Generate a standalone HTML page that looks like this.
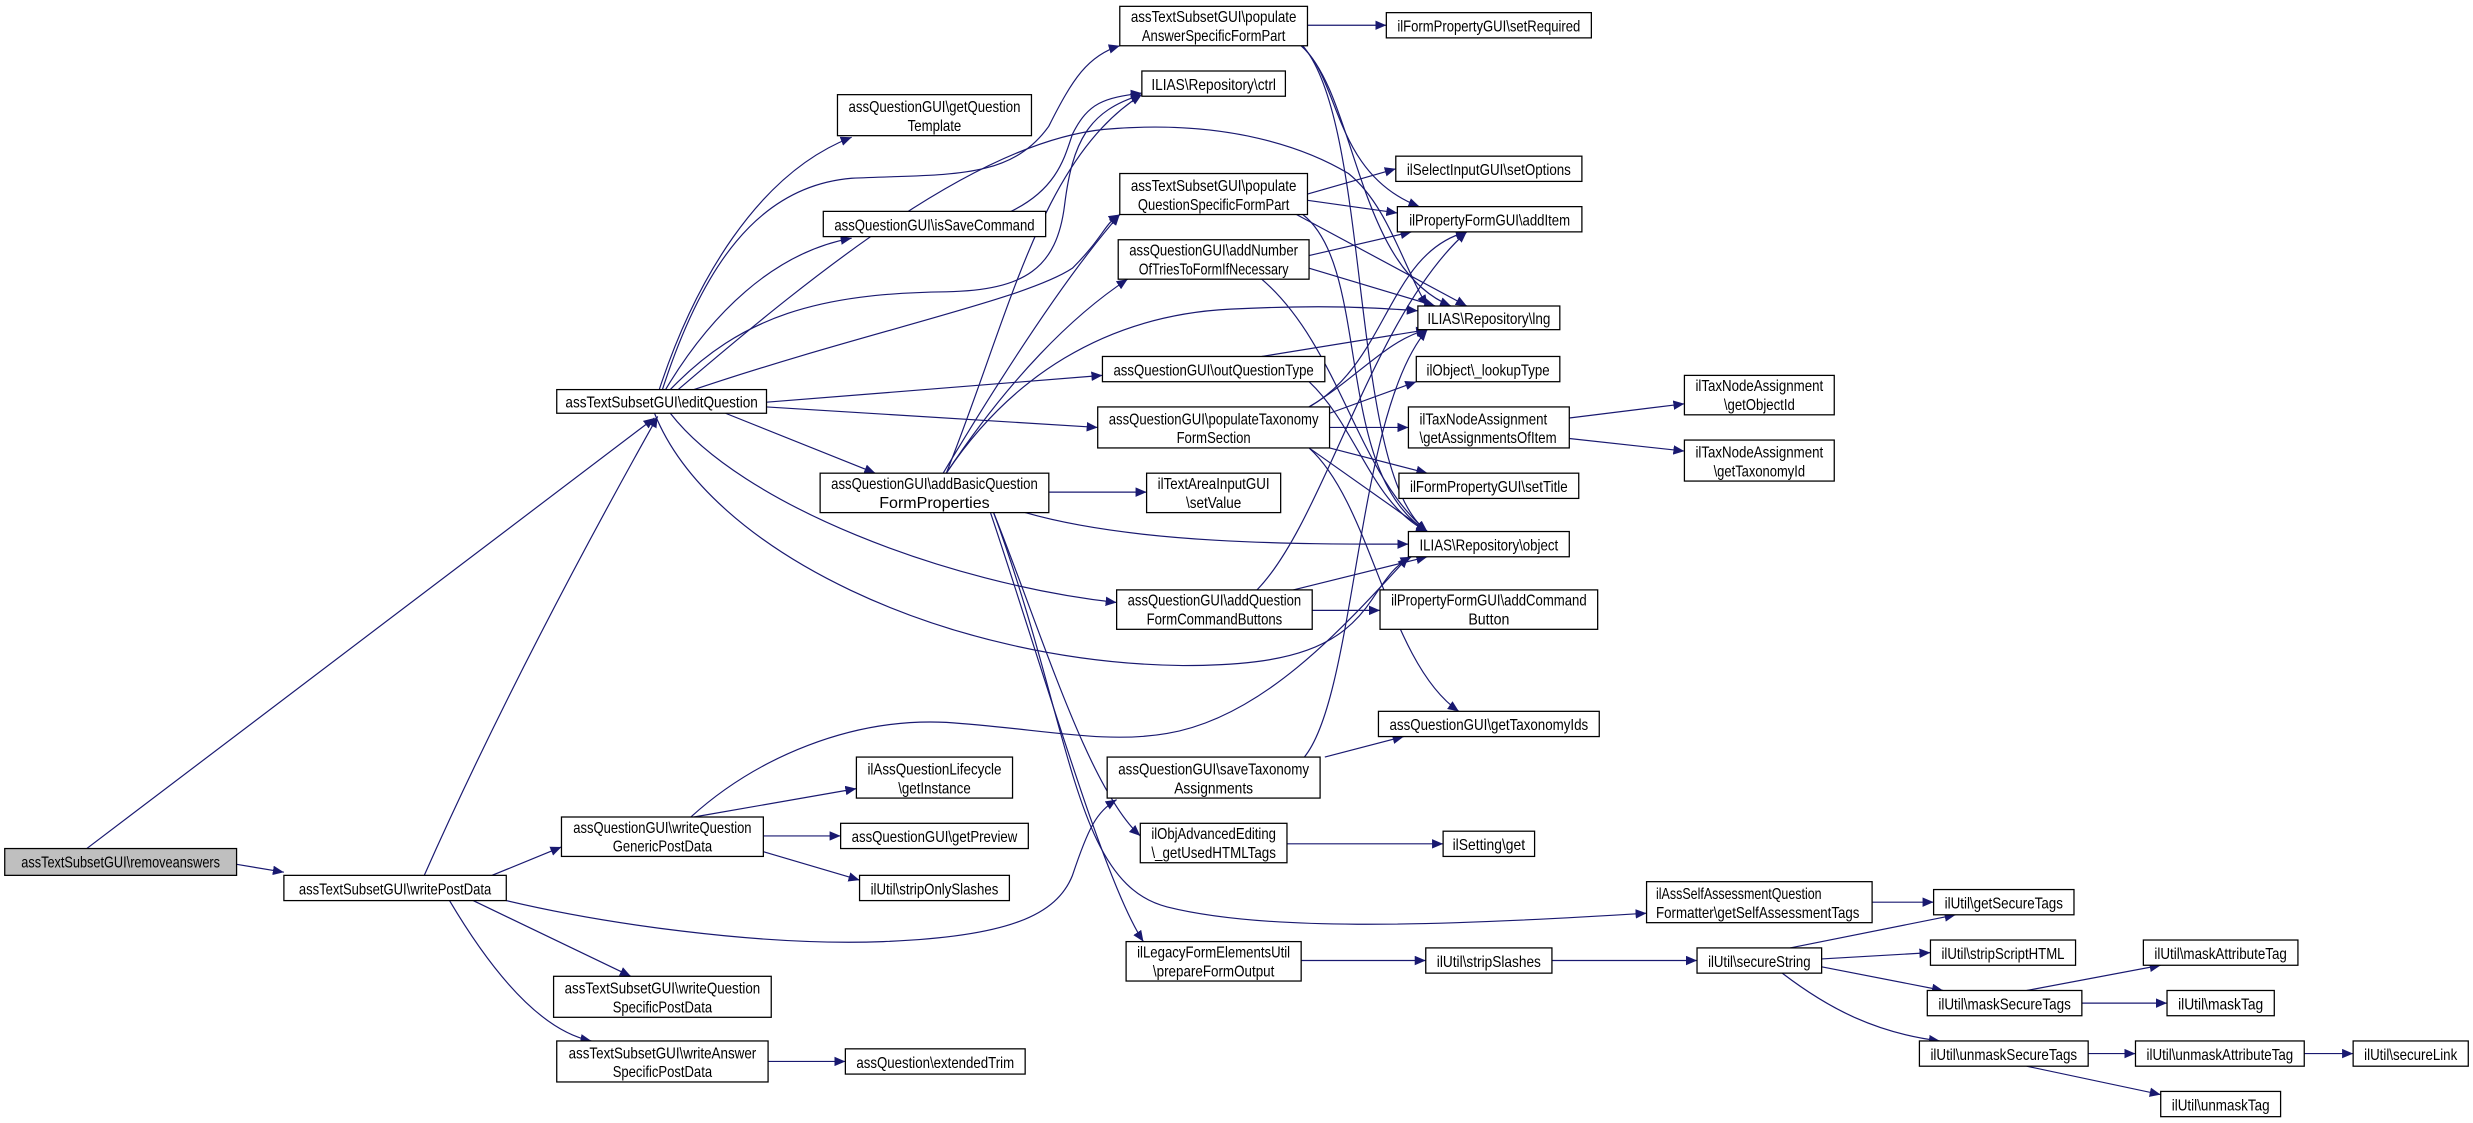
<!DOCTYPE html>
<html><head><meta charset="utf-8"><style>
html,body{margin:0;padding:0;background:#fff;}
svg{display:block;}
text{font-family:"Liberation Sans",sans-serif;font-size:10px;fill:#000;}
.e{fill:none;stroke:#191970;stroke-width:0.75;}
.n{fill:#fff;stroke:#000;stroke-width:0.8;}
</style></head><body>
<svg width="2473" height="1123" viewBox="0 0 1568 712" xmlns="http://www.w3.org/2000/svg">
<defs><marker id="a" markerWidth="8" markerHeight="6" refX="7" refY="3" orient="auto" markerUnits="userSpaceOnUse"><path d="M0,0 L7,3 L0,6 z" fill="#191970"/></marker></defs>
<g marker-end="url(#a)">
<path class="e" d="M55,538 L415,265"/>
<path class="e" d="M150,548 L180,553"/>
<path class="e" d="M269,555 C320,440 380,330 417,264"/>
<path class="e" d="M312,555 L356,537"/>
<path class="e" d="M321,571 C380,585 480,600 560,597 C640,594 670,580 680,555 C690,525 695,515 708,507"/>
<path class="e" d="M438,518 C480,480 540,455 600,458 C660,462 700,472 740,465 C800,455 850,400 893,353"/>
<path class="e" d="M440,518 L543,500"/>
<path class="e" d="M484,530 L533,530"/>
<path class="e" d="M484,540 L545,558"/>
<path class="e" d="M300,571 L400,619"/>
<path class="e" d="M285,571 C320,630 350,655 375,660"/>
<path class="e" d="M487,673 L536,673"/>
<path class="e" d="M418,247 C440,180 480,110 540,87"/>
<path class="e" d="M420,247 C445,170 480,118 540,113 C600,110 640,115 665,80 C680,50 690,35 710,29"/>
<path class="e" d="M422,247 C450,200 490,160 540,151"/>
<path class="e" d="M425,247 C470,200 520,186 600,185 C650,184 670,170 675,130 C680,90 690,70 724,60"/>
<path class="e" d="M641,134 C670,120 675,100 680,85 C690,65 700,62 724,59"/>
<path class="e" d="M430,247 C520,170 620,90 700,82 C780,75 830,95 855,110 C880,130 890,170 905,194"/>
<path class="e" d="M440,247 C550,210 650,190 680,170 C700,150 700,142 710,136"/>
<path class="e" d="M486,255 L699,238"/>
<path class="e" d="M486,258 L696,271"/>
<path class="e" d="M460,262 L555,300"/>
<path class="e" d="M425,262 C470,320 600,370 708,382"/>
<path class="e" d="M415,262 C450,350 600,420 750,422 C820,422 850,410 870,380 C880,365 885,358 895,353"/>
<path class="e" d="M829,16 L879,16"/>
<path class="e" d="M825,29 C850,50 845,110 900,131"/>
<path class="e" d="M825,29 C860,60 860,170 920,194"/>
<path class="e" d="M826,29 C870,80 855,300 905,337"/>
<path class="e" d="M829,123 L885,107"/>
<path class="e" d="M829,127 L886,135"/>
<path class="e" d="M822,136 L930,194"/>
<path class="e" d="M826,136 C870,170 845,300 905,337"/>
<path class="e" d="M830,162 L895,147"/>
<path class="e" d="M830,170 L910,194"/>
<path class="e" d="M800,177 C850,220 860,300 905,337"/>
<path class="e" d="M800,226 L905,209"/>
<path class="e" d="M830,242 C860,270 870,320 905,337"/>
<path class="e" d="M830,258 C860,240 880,215 905,209"/>
<path class="e" d="M830,258 C880,230 880,160 930,147"/>
<path class="e" d="M843,262 L898,242"/>
<path class="e" d="M843,271 L893,271"/>
<path class="e" d="M843,284 L905,300"/>
<path class="e" d="M830,284 L905,337"/>
<path class="e" d="M830,284 C870,320 880,420 925,451"/>
<path class="e" d="M995,265 L1068,256"/>
<path class="e" d="M995,278 L1068,286"/>
<path class="e" d="M600,300 C640,200 660,100 724,60"/>
<path class="e" d="M600,300 C640,240 700,200 780,196 C840,193 870,195 899,197"/>
<path class="e" d="M598,300 C640,230 680,170 710,136"/>
<path class="e" d="M600,300 C640,240 680,200 715,177"/>
<path class="e" d="M665,312 L727,312"/>
<path class="e" d="M650,325 C720,345 820,345 893,345"/>
<path class="e" d="M630,325 C660,400 690,500 723,530"/>
<path class="e" d="M628,325 C660,420 700,560 725,597"/>
<path class="e" d="M630,325 C680,460 680,560 740,575 C800,590 900,588 1044,579"/>
<path class="e" d="M797,374 C840,330 870,200 930,147"/>
<path class="e" d="M820,374 L905,353"/>
<path class="e" d="M832,387 L875,387"/>
<path class="e" d="M827,480 C860,440 860,260 905,209"/>
<path class="e" d="M840,480 L890,467"/>
<path class="e" d="M816,535 L915,535"/>
<path class="e" d="M825,609 L904,609"/>
<path class="e" d="M984,609 L1076,609"/>
<path class="e" d="M1187,572 L1226,572"/>
<path class="e" d="M1135,601 L1240,580"/>
<path class="e" d="M1155,608 L1224,604"/>
<path class="e" d="M1155,613 L1232,628"/>
<path class="e" d="M1130,617 C1160,640 1190,655 1230,660"/>
<path class="e" d="M1285,628 L1370,612"/>
<path class="e" d="M1320,636 L1374,636"/>
<path class="e" d="M1324,668 L1354,668"/>
<path class="e" d="M1285,676 L1370,694"/>
<path class="e" d="M1461,668 L1492,668"/>
</g>
<g>
<rect x="3" y="538" width="147" height="17" style="fill:#bfbfbf;stroke:#000;stroke-width:0.8"/><text x="76.5" y="550" text-anchor="middle" textLength="126" lengthAdjust="spacingAndGlyphs">assTextSubsetGUI\removeanswers</text>
<rect class="n" x="180" y="555" width="141" height="16"/><text x="250.5" y="567" text-anchor="middle" textLength="122" lengthAdjust="spacingAndGlyphs">assTextSubsetGUI\writePostData</text>
<rect class="n" x="353" y="247" width="133" height="15"/><text x="419.5" y="258.5" text-anchor="middle" textLength="122" lengthAdjust="spacingAndGlyphs">assTextSubsetGUI\editQuestion</text>
<rect class="n" x="356" y="518" width="128" height="25"/><text x="420" y="528" text-anchor="middle" textLength="113" lengthAdjust="spacingAndGlyphs">assQuestionGUI\writeQuestion</text><text x="420" y="540" text-anchor="middle" textLength="63" lengthAdjust="spacingAndGlyphs">GenericPostData</text>
<rect class="n" x="351" y="619" width="138" height="26"/><text x="420" y="630" text-anchor="middle" textLength="124" lengthAdjust="spacingAndGlyphs">assTextSubsetGUI\writeQuestion</text><text x="420" y="642" text-anchor="middle" textLength="63" lengthAdjust="spacingAndGlyphs">SpecificPostData</text>
<rect class="n" x="353" y="660" width="134" height="26"/><text x="420" y="671" text-anchor="middle" textLength="119" lengthAdjust="spacingAndGlyphs">assTextSubsetGUI\writeAnswer</text><text x="420" y="683" text-anchor="middle" textLength="63" lengthAdjust="spacingAndGlyphs">SpecificPostData</text>
<rect class="n" x="710" y="4" width="119" height="25"/><text x="769.5" y="14" text-anchor="middle" textLength="105" lengthAdjust="spacingAndGlyphs">assTextSubsetGUI\populate</text><text x="769.5" y="26" text-anchor="middle" textLength="91" lengthAdjust="spacingAndGlyphs">AnswerSpecificFormPart</text>
<rect class="n" x="879" y="8" width="130" height="16"/><text x="944" y="20" text-anchor="middle" textLength="116" lengthAdjust="spacingAndGlyphs">ilFormPropertyGUI\setRequired</text>
<rect class="n" x="724" y="45" width="91" height="16"/><text x="769.5" y="57" text-anchor="middle" textLength="79" lengthAdjust="spacingAndGlyphs">ILIAS\Repository\ctrl</text>
<rect class="n" x="531" y="60" width="123" height="26"/><text x="592.5" y="71" text-anchor="middle" textLength="109" lengthAdjust="spacingAndGlyphs">assQuestionGUI\getQuestion</text><text x="592.5" y="83" text-anchor="middle" textLength="34" lengthAdjust="spacingAndGlyphs">Template</text>
<rect class="n" x="522" y="134" width="141" height="16"/><text x="592.5" y="146" text-anchor="middle" textLength="127" lengthAdjust="spacingAndGlyphs">assQuestionGUI\isSaveCommand</text>
<rect class="n" x="710" y="110" width="119" height="26"/><text x="769.5" y="121" text-anchor="middle" textLength="105" lengthAdjust="spacingAndGlyphs">assTextSubsetGUI\populate</text><text x="769.5" y="133" text-anchor="middle" textLength="96" lengthAdjust="spacingAndGlyphs">QuestionSpecificFormPart</text>
<rect class="n" x="885" y="99" width="118" height="16"/><text x="944" y="111" text-anchor="middle" textLength="104" lengthAdjust="spacingAndGlyphs">ilSelectInputGUI\setOptions</text>
<rect class="n" x="886" y="131" width="117" height="16"/><text x="944.5" y="143" text-anchor="middle" textLength="102" lengthAdjust="spacingAndGlyphs">ilPropertyFormGUI\addItem</text>
<rect class="n" x="709" y="152" width="121" height="25"/><text x="769.5" y="162" text-anchor="middle" textLength="107" lengthAdjust="spacingAndGlyphs">assQuestionGUI\addNumber</text><text x="769.5" y="174" text-anchor="middle" textLength="95" lengthAdjust="spacingAndGlyphs">OfTriesToFormIfNecessary</text>
<rect class="n" x="899" y="194" width="90" height="15"/><text x="944" y="205.5" text-anchor="middle" textLength="78" lengthAdjust="spacingAndGlyphs">ILIAS\Repository\lng</text>
<rect class="n" x="699" y="226" width="141" height="16"/><text x="769.5" y="238" text-anchor="middle" textLength="127" lengthAdjust="spacingAndGlyphs">assQuestionGUI\outQuestionType</text>
<rect class="n" x="898" y="226" width="91" height="16"/><text x="943.5" y="238" text-anchor="middle" textLength="78" lengthAdjust="spacingAndGlyphs">ilObject\_lookupType</text>
<rect class="n" x="696" y="258" width="147" height="26"/><text x="769.5" y="269" text-anchor="middle" textLength="133" lengthAdjust="spacingAndGlyphs">assQuestionGUI\populateTaxonomy</text><text x="769.5" y="281" text-anchor="middle" textLength="47" lengthAdjust="spacingAndGlyphs">FormSection</text>
<rect class="n" x="893" y="258" width="102" height="26"/><text x="900" y="269" textLength="81" lengthAdjust="spacingAndGlyphs">ilTaxNodeAssignment</text><text x="900" y="281" textLength="87" lengthAdjust="spacingAndGlyphs">\getAssignmentsOfItem</text>
<rect class="n" x="1068" y="238" width="95" height="25"/><text x="1115.5" y="248" text-anchor="middle" textLength="81" lengthAdjust="spacingAndGlyphs">ilTaxNodeAssignment</text><text x="1115.5" y="260" text-anchor="middle" textLength="45" lengthAdjust="spacingAndGlyphs">\getObjectId</text>
<rect class="n" x="1068" y="279" width="95" height="26"/><text x="1115.5" y="290" text-anchor="middle" textLength="81" lengthAdjust="spacingAndGlyphs">ilTaxNodeAssignment</text><text x="1115.5" y="302" text-anchor="middle" textLength="58" lengthAdjust="spacingAndGlyphs">\getTaxonomyId</text>
<rect class="n" x="887" y="300" width="114" height="16"/><text x="944" y="312" text-anchor="middle" textLength="100" lengthAdjust="spacingAndGlyphs">ilFormPropertyGUI\setTitle</text>
<rect class="n" x="520" y="300" width="145" height="25"/><text x="592.5" y="310" text-anchor="middle" textLength="131" lengthAdjust="spacingAndGlyphs">assQuestionGUI\addBasicQuestion</text><text x="592.5" y="322" text-anchor="middle" textLength="70" lengthAdjust="spacingAndGlyphs">FormProperties</text>
<rect class="n" x="727" y="300" width="85" height="25"/><text x="769.5" y="310" text-anchor="middle" textLength="71" lengthAdjust="spacingAndGlyphs">ilTextAreaInputGUI</text><text x="769.5" y="322" text-anchor="middle" textLength="35" lengthAdjust="spacingAndGlyphs">\setValue</text>
<rect class="n" x="893" y="337" width="102" height="16"/><text x="944" y="349" text-anchor="middle" textLength="88" lengthAdjust="spacingAndGlyphs">ILIAS\Repository\object</text>
<rect class="n" x="708" y="374" width="124" height="25"/><text x="770" y="384" text-anchor="middle" textLength="110" lengthAdjust="spacingAndGlyphs">assQuestionGUI\addQuestion</text><text x="770" y="396" text-anchor="middle" textLength="86" lengthAdjust="spacingAndGlyphs">FormCommandButtons</text>
<rect class="n" x="875" y="374" width="138" height="25"/><text x="944" y="384" text-anchor="middle" textLength="124" lengthAdjust="spacingAndGlyphs">ilPropertyFormGUI\addCommand</text><text x="944" y="396" text-anchor="middle" textLength="26" lengthAdjust="spacingAndGlyphs">Button</text>
<rect class="n" x="874" y="451" width="140" height="16"/><text x="944" y="463" text-anchor="middle" textLength="126" lengthAdjust="spacingAndGlyphs">assQuestionGUI\getTaxonomyIds</text>
<rect class="n" x="543" y="480" width="99" height="26"/><text x="592.5" y="491" text-anchor="middle" textLength="85" lengthAdjust="spacingAndGlyphs">ilAssQuestionLifecycle</text><text x="592.5" y="503" text-anchor="middle" textLength="46" lengthAdjust="spacingAndGlyphs">\getInstance</text>
<rect class="n" x="702" y="480" width="135" height="26"/><text x="769.5" y="491" text-anchor="middle" textLength="121" lengthAdjust="spacingAndGlyphs">assQuestionGUI\saveTaxonomy</text><text x="769.5" y="503" text-anchor="middle" textLength="50" lengthAdjust="spacingAndGlyphs">Assignments</text>
<rect class="n" x="533" y="522" width="119" height="16"/><text x="592.5" y="534" text-anchor="middle" textLength="105" lengthAdjust="spacingAndGlyphs">assQuestionGUI\getPreview</text>
<rect class="n" x="723" y="522" width="93" height="25"/><text x="769.5" y="532" text-anchor="middle" textLength="79" lengthAdjust="spacingAndGlyphs">ilObjAdvancedEditing</text><text x="769.5" y="544" text-anchor="middle" textLength="79" lengthAdjust="spacingAndGlyphs">\_getUsedHTMLTags</text>
<rect class="n" x="915" y="527" width="58" height="16"/><text x="944" y="539" text-anchor="middle" textLength="46" lengthAdjust="spacingAndGlyphs">ilSetting\get</text>
<rect class="n" x="545" y="555" width="95" height="16"/><text x="592.5" y="567" text-anchor="middle" textLength="81" lengthAdjust="spacingAndGlyphs">ilUtil\stripOnlySlashes</text>
<rect class="n" x="714" y="597" width="111" height="25"/><text x="769.5" y="607" text-anchor="middle" textLength="97" lengthAdjust="spacingAndGlyphs">ilLegacyFormElementsUtil</text><text x="769.5" y="619" text-anchor="middle" textLength="77" lengthAdjust="spacingAndGlyphs">\prepareFormOutput</text>
<rect class="n" x="904" y="601" width="80" height="16"/><text x="944" y="613" text-anchor="middle" textLength="66" lengthAdjust="spacingAndGlyphs">ilUtil\stripSlashes</text>
<rect class="n" x="536" y="665" width="114" height="16"/><text x="593" y="677" text-anchor="middle" textLength="100" lengthAdjust="spacingAndGlyphs">assQuestion\extendedTrim</text>
<rect class="n" x="1044" y="559" width="143" height="26"/><text x="1050" y="570" textLength="105" lengthAdjust="spacingAndGlyphs">ilAssSelfAssessmentQuestion</text><text x="1050" y="582" textLength="129" lengthAdjust="spacingAndGlyphs">Formatter\getSelfAssessmentTags</text>
<rect class="n" x="1226" y="564" width="89" height="16"/><text x="1270.5" y="576" text-anchor="middle" textLength="75" lengthAdjust="spacingAndGlyphs">ilUtil\getSecureTags</text>
<rect class="n" x="1076" y="601" width="79" height="16"/><text x="1115.5" y="613" text-anchor="middle" textLength="65" lengthAdjust="spacingAndGlyphs">ilUtil\secureString</text>
<rect class="n" x="1224" y="596" width="92" height="16"/><text x="1270" y="608" text-anchor="middle" textLength="78" lengthAdjust="spacingAndGlyphs">ilUtil\stripScriptHTML</text>
<rect class="n" x="1222" y="628" width="98" height="16"/><text x="1271" y="640" text-anchor="middle" textLength="84" lengthAdjust="spacingAndGlyphs">ilUtil\maskSecureTags</text>
<rect class="n" x="1217" y="660" width="107" height="16"/><text x="1270.5" y="672" text-anchor="middle" textLength="93" lengthAdjust="spacingAndGlyphs">ilUtil\unmaskSecureTags</text>
<rect class="n" x="1359" y="596" width="98" height="16"/><text x="1408" y="608" text-anchor="middle" textLength="84" lengthAdjust="spacingAndGlyphs">ilUtil\maskAttributeTag</text>
<rect class="n" x="1374" y="628" width="68" height="16"/><text x="1408" y="640" text-anchor="middle" textLength="54" lengthAdjust="spacingAndGlyphs">ilUtil\maskTag</text>
<rect class="n" x="1354" y="660" width="107" height="16"/><text x="1407.5" y="672" text-anchor="middle" textLength="93" lengthAdjust="spacingAndGlyphs">ilUtil\unmaskAttributeTag</text>
<rect class="n" x="1492" y="660" width="73" height="16"/><text x="1528.5" y="672" text-anchor="middle" textLength="59" lengthAdjust="spacingAndGlyphs">ilUtil\secureLink</text>
<rect class="n" x="1370" y="692" width="76" height="16"/><text x="1408" y="704" text-anchor="middle" textLength="62" lengthAdjust="spacingAndGlyphs">ilUtil\unmaskTag</text>
</g>
</svg>
</body></html>
